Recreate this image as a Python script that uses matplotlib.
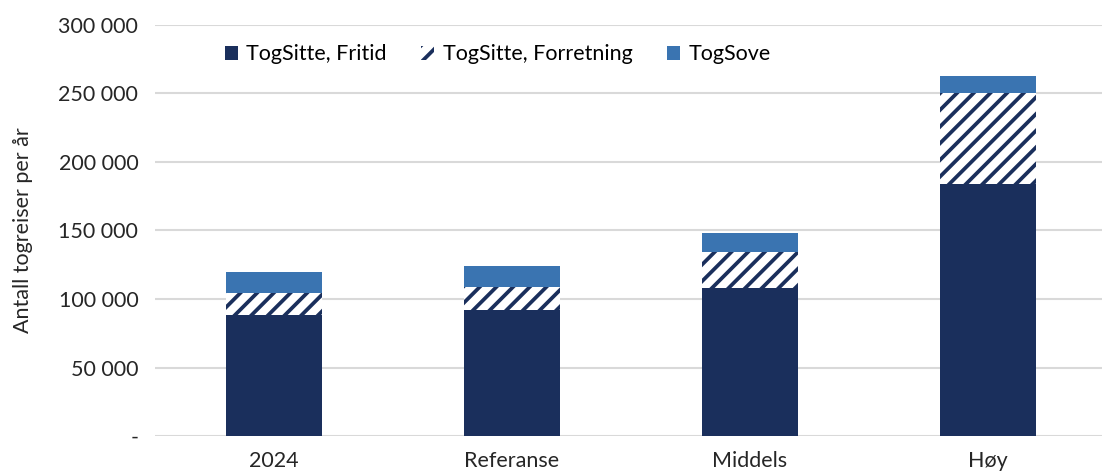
import numpy as np
import matplotlib.pyplot as plt
from matplotlib.ticker import FuncFormatter

plt.rcParams['font.family'] = ['Lato', 'DejaVu Sans']
plt.rcParams['hatch.linewidth'] = 2.7

# values
kategorier = ['2024', 'Referanse', 'Middels', 'Høy']
fritid = [88500, 92000, 108000, 184000]
forretning = [16000, 17000, 26000, 66000]
sove = [15000, 15000, 14000, 13000]

navy = '#1a2f5c'
blue = '#3a74b1'
fs = 15.5

fig = plt.figure(figsize=(11.02, 4.76), dpi=100)
ax = fig.add_axes([155/1102, 40/476, 952/1102, 411/476])

x = np.arange(len(kategorier))
w = 0.4
bunn2 = np.array(fritid)
bunn3 = bunn2 + np.array(forretning)
ax.bar(x, fritid, w, color=navy, label='TogSitte, Fritid', zorder=3)
ax.bar(x, forretning, w, bottom=bunn2, color='white', edgecolor=navy,
       hatch='//', linewidth=0, label='TogSitte, Forretning', zorder=3)
ax.bar(x, sove, w, bottom=bunn3, color=blue, label='TogSove', zorder=3)

ax.set_xlim(-0.5, 3.5)
ax.set_ylim(0, 300000)
ax.set_yticks(np.arange(0, 300001, 50000))
ax.yaxis.set_major_formatter(FuncFormatter(
    lambda v, p: '-' if v == 0 else f'{int(v):,}'.replace(',', ' ')))
ax.set_xticks(x)
ax.set_xticklabels(kategorier)
ax.tick_params(axis='both', length=0, labelsize=fs, colors='#262626')
ax.tick_params(axis='y', pad=12)
ax.tick_params(axis='x', pad=11)
ax.grid(axis='y', color='#d9d9d9', linewidth=1.5, zorder=0)
for s in ax.spines.values():
    s.set_visible(False)
ax.set_ylabel('Antall togreiser per år', fontsize=fs, color='#262626', labelpad=18)

ax.legend(loc='upper left', bbox_to_anchor=(0.053, 1.0), ncol=3, frameon=False,
          fontsize=fs, handlelength=0.6, handleheight=0.6, handletextpad=0.4,
          columnspacing=1.6)

fig.savefig('out.png', dpi=100)
